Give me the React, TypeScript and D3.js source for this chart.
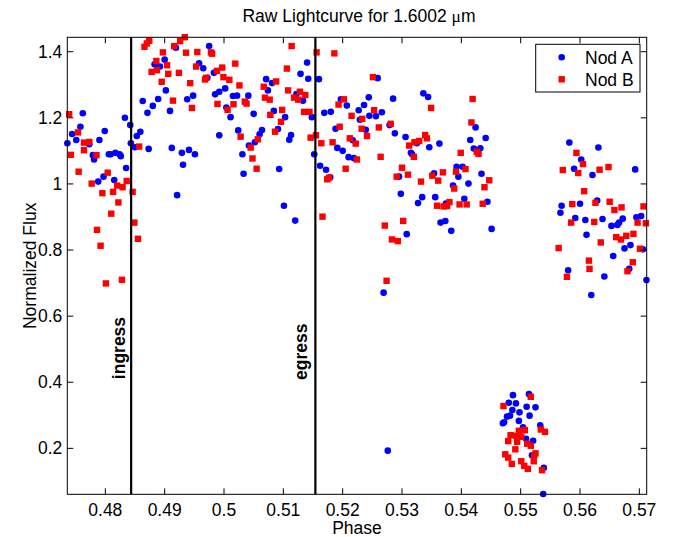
import React from "react";
import * as d3 from "d3";

// Nod A: [phase, normalized flux]
const nodA: [number, number][] = [
  [0.4736,1.123],[0.4744,1.151],[0.4751,1.133],[0.4758,1.173],[0.4762,1.214],[0.4773,1.120],[0.4779,1.087],[0.4781,1.074],[0.4790,1.133],[0.4799,1.160],
  [0.4806,1.090],[0.4809,1.090],[0.4817,1.094],[0.4824,1.090],[0.4826,1.084],[0.4797,1.022],[0.4788,1.007],[0.4815,1.012],[0.4835,1.048],[0.4833,1.200],
  [0.4842,1.178],[0.4843,1.123],[0.4853,1.145],[0.4859,1.158],[0.4850,1.111],[0.4873,1.106],[0.4863,1.251],[0.4871,1.215],[0.4880,1.236],[0.4889,1.257],
  [0.4902,1.283],[0.4909,1.221],[0.4912,1.109],[0.4929,1.094],[0.4931,1.058],[0.4941,1.103],[0.4951,1.090],[0.4938,1.256],[0.4948,1.267],[0.4921,0.966],
  [0.4883,1.362],[0.4892,1.355],[0.4900,1.376],[0.4919,1.412],[0.4958,1.365],[0.4965,1.350],[0.4975,1.417],[0.4972,1.321],[0.4983,1.336],[0.4985,1.271],
  [0.4992,1.147],[0.4992,1.279],[0.5002,1.289],[0.5004,1.231],[0.5011,1.202],[0.5015,1.266],[0.5022,1.267],[0.5041,1.267],[0.5050,1.212],[0.5024,1.162],
  [0.5031,1.090],[0.5033,1.031],[0.5042,1.116],[0.5052,1.126],[0.5060,1.150],[0.5064,1.163],[0.5071,1.317],[0.5074,1.283],[0.5081,1.305],[0.5084,1.221],
  [0.5091,1.166],[0.5093,1.045],[0.5103,1.202],[0.5113,1.148],[0.5110,1.134],[0.5101,0.934],[0.5120,0.889],[0.5122,1.272],[0.5129,1.333],[0.5133,1.252],
  [0.5140,1.367],[0.5142,1.318],[0.5148,1.202],[0.5152,1.090],[0.5160,1.317],[0.5162,1.055],[0.5172,1.043],[0.5179,1.020],[0.5169,1.215],[0.5180,1.218],
  [0.5188,1.167],[0.5191,1.109],[0.5200,1.100],[0.5197,1.256],[0.5207,1.237],[0.5210,1.081],[0.5219,1.078],[0.5217,1.132],[0.5227,1.223],[0.5229,1.194],
  [0.5236,1.239],[0.5239,1.164],[0.5244,1.262],[0.5245,1.206],[0.5259,1.320],[0.5256,1.205],[0.5266,1.217],[0.5285,1.258],[0.5279,1.178],[0.5288,1.153],
  [0.5306,1.142],[0.5336,1.274],[0.5344,1.263],[0.5325,1.123],[0.5315,1.094],[0.5317,1.090],[0.5346,1.111],[0.5363,1.122],[0.5295,1.022],[0.5298,0.970],
  [0.5334,0.960],[0.5327,0.942],[0.5354,1.032],[0.5356,0.960],[0.5386,0.995],[0.5392,1.052],[0.5402,1.052],[0.5395,1.022],[0.5412,1.001],[0.5405,0.955],
  [0.5374,0.941],[0.5365,0.883],[0.5373,0.888],[0.5383,0.858],[0.5308,0.848],[0.5269,0.671],[0.5424,1.171],[0.5415,1.133],[0.5441,1.139],[0.5421,1.107],
  [0.5432,1.108],[0.5434,1.031],[0.5444,0.946],[0.5451,0.864],[0.5276,0.193],
  [0.5582,1.125],[0.5631,1.110],[0.5602,1.074],[0.5590,1.046],[0.5621,1.027],[0.5693,1.044],[0.5629,0.950],[0.5569,0.934],[0.5567,0.913],[0.5600,0.940],
  [0.5592,0.897],[0.5609,0.891],[0.5638,0.894],[0.5653,0.873],[0.5663,0.876],[0.5666,0.883],[0.5672,0.895],[0.5695,0.899],[0.5703,0.903],[0.5611,0.846],
  [0.5675,0.805],[0.5685,0.815],[0.5706,0.802],[0.5656,0.782],[0.5580,0.739],[0.5641,0.720],[0.5683,0.743],[0.5712,0.709],[0.5619,0.664],
  [0.5487,0.361],[0.5514,0.364],[0.5480,0.338],[0.5492,0.336],[0.5510,0.326],[0.5525,0.324],[0.5486,0.316],[0.5498,0.309],[0.5482,0.299],[0.5477,0.296],
  [0.5515,0.299],[0.5472,0.279],[0.5470,0.276],[0.5497,0.283],[0.5504,0.264],[0.5533,0.270],[0.5509,0.229],[0.5521,0.223],[0.5519,0.179],[0.5539,0.141],
  [0.5538,0.062],
];

// Nod B: [phase, normalized flux]
const nodB: [number, number][] = [
  [0.4739,1.211],[0.4754,1.156],[0.4742,1.088],[0.4764,1.125],[0.4773,1.127],[0.4764,1.102],[0.4785,1.087],[0.4755,1.037],[0.4777,1.001],[0.4804,1.034],
  [0.4795,0.972],[0.4813,0.976],[0.4820,0.995],[0.4829,0.990],[0.4836,1.009],[0.4822,0.944],[0.4810,0.910],[0.4846,0.976],[0.4849,0.883],[0.4855,0.834],
  [0.4786,0.861],[0.4792,0.813],[0.4801,0.699],[0.4828,0.710],[0.4857,1.113],[0.4866,1.415],[0.4870,1.425],[0.4874,1.433],[0.4897,1.398],[0.4886,1.372],
  [0.4878,1.339],[0.4887,1.344],[0.4904,1.359],[0.4906,1.333],[0.4895,1.309],[0.4916,1.417],[0.4926,1.432],[0.4934,1.444],[0.4936,1.397],[0.4955,1.399],
  [0.4978,1.398],[0.4980,1.394],[0.4924,1.336],[0.4943,1.305],[0.4953,1.355],[0.4968,1.316],[0.4970,1.321],[0.4988,1.342],[0.4989,1.242],[0.4914,1.252],
  [0.4946,1.230],[0.5114,1.417],[0.5156,1.398],[0.5186,1.395],[0.4997,1.352],[0.5019,1.364],[0.4999,1.323],[0.5009,1.315],[0.5026,1.298],[0.5006,1.224],
  [0.5016,1.241],[0.5035,1.249],[0.5038,1.243],[0.5067,1.294],[0.5069,1.261],[0.5077,1.255],[0.5088,1.310],[0.5106,1.349],[0.5108,1.283],[0.5118,1.261],
  [0.5125,1.255],[0.5128,1.279],[0.5137,1.269],[0.5078,1.209],[0.5098,1.224],[0.5096,1.188],[0.5086,1.158],[0.5135,1.218],[0.5144,1.218],[0.5028,1.143],
  [0.5057,1.135],[0.5045,1.110],[0.5048,1.077],[0.5055,1.046],[0.5146,1.140],[0.5155,1.147],[0.5164,1.123],[0.5183,1.126],[0.5205,1.046],[0.5174,1.014],
  [0.5177,1.019],[0.5166,0.901],[0.5193,1.240],[0.5202,1.256],[0.5215,1.206],[0.5233,1.197],[0.5195,1.173],[0.5212,1.138],[0.5222,1.122],[0.5224,1.074],
  [0.5232,1.167],[0.5241,1.145],[0.5251,1.323],[0.5253,1.223],[0.5261,1.171],[0.5281,1.182],[0.5264,1.082],[0.5349,1.230],[0.5419,1.257],[0.5417,1.186],
  [0.5312,1.116],[0.5321,1.126],[0.5329,1.130],[0.5339,1.148],[0.5342,1.138],[0.5320,1.082],[0.5300,1.049],[0.5291,1.022],[0.5310,1.028],[0.5332,1.007],
  [0.5351,1.025],[0.5361,1.010],[0.5369,1.035],[0.5391,1.037],[0.5407,1.045],[0.5388,0.986],[0.5399,1.094],[0.5426,1.097],[0.5429,1.091],[0.5359,0.934],
  [0.5370,0.932],[0.5376,0.933],[0.5380,0.945],[0.5397,0.938],[0.5409,0.938],[0.5436,0.940],[0.5439,0.990],[0.5447,1.011],[0.5302,0.888],[0.5271,0.874],
  [0.5283,0.832],[0.5293,0.827],[0.5274,0.707],
  [0.5594,1.094],[0.5605,1.060],[0.5597,1.033],[0.5571,1.042],[0.5633,1.043],[0.5648,1.051],[0.5607,0.978],[0.5587,0.939],[0.5626,0.943],[0.5650,0.946],
  [0.5658,0.921],[0.5670,0.929],[0.5707,0.932],[0.5585,0.883],[0.5624,0.885],[0.5697,0.883],[0.5711,0.881],[0.5690,0.849],[0.5661,0.839],[0.5669,0.832],
  [0.5678,0.843],[0.5635,0.823],[0.5564,0.806],[0.5701,0.804],[0.5615,0.768],[0.5616,0.743],[0.5689,0.763],[0.5680,0.736],[0.5578,0.719],
  [0.5517,0.356],[0.5471,0.328],[0.5534,0.257],[0.5541,0.250],[0.5497,0.253],[0.5507,0.255],[0.5483,0.240],[0.5492,0.238],[0.5501,0.235],[0.5479,0.222],
  [0.5494,0.220],[0.5511,0.214],[0.5517,0.208],[0.5491,0.197],[0.5525,0.185],[0.5523,0.179],[0.5474,0.182],[0.5479,0.172],[0.5485,0.153],[0.5501,0.161],
  [0.5506,0.147],[0.5512,0.138],[0.5522,0.161],[0.5536,0.134],
];

const xTicks = [0.48, 0.49, 0.5, 0.51, 0.52, 0.53, 0.54, 0.55, 0.56, 0.57];
const yTicks = [0.2, 0.4, 0.6, 0.8, 1, 1.2, 1.4];
const xDomain = [0.47359, 0.57124];
const yDomain = [0.061, 1.4436];
const events = [
  { name: "ingress", phase: 0.48435, labelPhase: 0.48327, labelFlux: 0.5035 },
  { name: "egress", phase: 0.5154, labelPhase: 0.51392, labelFlux: 0.4923 },
];
const seriesNames = ["Nod A", "Nod B"];

const W = 683, H = 537;
const L = 67.3, R = 646.7, T = 37.3, B = 494.3;
const FONT = "'Liberation Sans', Arial, Helvetica, sans-serif";
const FS = 17.5;

export default function App() {
  const x = d3.scaleLinear().domain(xDomain).range([L, R]);
  const y = d3.scaleLinear().domain(yDomain).range([B, T]);
  const tl = 6;
  const fmt = (v: number) => String(+v.toFixed(2));
  const sq = 6.4;
  const cr = 3.3;
  return (
    <svg width={W} height={H} style={{ position: "absolute", left: 0, top: 0, background: "#fff" }} fontFamily={FONT}>
      <rect x={0} y={0} width={W} height={H} fill="#fff" />
      {/* title */}
      <text x={(L + R) / 2 + 2} y={22} fontSize={FS} textAnchor="middle" fill="#000">
        Raw Lightcurve for 1.6002 <tspan fontFamily="'Liberation Serif', serif">μ</tspan>m
      </text>
      {/* points */}
      <g>
        {nodA.map((d, i) => (
          <circle key={"a" + i} cx={x(d[0])} cy={y(d[1])} r={cr} fill="#0000ff" />
        ))}
      </g>
      <g>
        {nodB.map((d, i) => (
          <rect key={"b" + i} x={x(d[0]) - sq / 2} y={y(d[1]) - sq / 2} width={sq} height={sq} fill="#ff0000" />
        ))}
      </g>
      {/* event lines */}
      {events.map((e) => (
        <g key={e.name}>
          <line x1={x(e.phase)} x2={x(e.phase)} y1={T} y2={B} stroke="#000" strokeWidth={2.2} />
          <text
            transform={`translate(${x(e.labelPhase)},${y(e.labelFlux)}) rotate(-90)`}
            fontSize={FS}
            fontWeight="bold"
            textAnchor="middle"
            fill="#000"
          >
            {e.name}
          </text>
        </g>
      ))}
      {/* axes box */}
      <rect x={L} y={T} width={R - L} height={B - T} fill="none" stroke="#000" strokeWidth={1} />
      {xTicks.map((t) => (
        <g key={"xt" + t}>
          <line x1={x(t)} x2={x(t)} y1={B} y2={B - tl} stroke="#000" />
          <line x1={x(t)} x2={x(t)} y1={T} y2={T + tl} stroke="#000" />
          <text x={x(t)} y={516} fontSize={FS} textAnchor="middle" fill="#000">{fmt(t)}</text>
        </g>
      ))}
      {yTicks.map((t) => (
        <g key={"yt" + t}>
          <line x1={L} x2={L + tl} y1={y(t)} y2={y(t)} stroke="#000" />
          <line x1={R} x2={R - tl} y1={y(t)} y2={y(t)} stroke="#000" />
          <text x={L - 5} y={y(t) + 6} fontSize={FS} textAnchor="end" fill="#000">{fmt(t)}</text>
        </g>
      ))}
      <text x={(L + R) / 2} y={534} fontSize={FS} textAnchor="middle" fill="#000">Phase</text>
      <text transform={`translate(36,${(T + B) / 2}) rotate(-90)`} fontSize={FS} textAnchor="middle" fill="#000">
        Normalized Flux
      </text>
      {/* legend */}
      <g>
        <rect x={535.7} y={44.3} width={104.3} height={47.7} fill="#fff" stroke="#000" strokeWidth={1} />
        <circle cx={561.7} cy={57.3} r={cr} fill="#0000ff" />
        <text x={585} y={63.8} fontSize={FS} fill="#000">{seriesNames[0]}</text>
        <rect x={561.7 - sq / 2} y={79.3 - sq / 2} width={sq} height={sq} fill="#ff0000" />
        <text x={585} y={85.8} fontSize={FS} fill="#000">{seriesNames[1]}</text>
      </g>
    </svg>
  );
}
